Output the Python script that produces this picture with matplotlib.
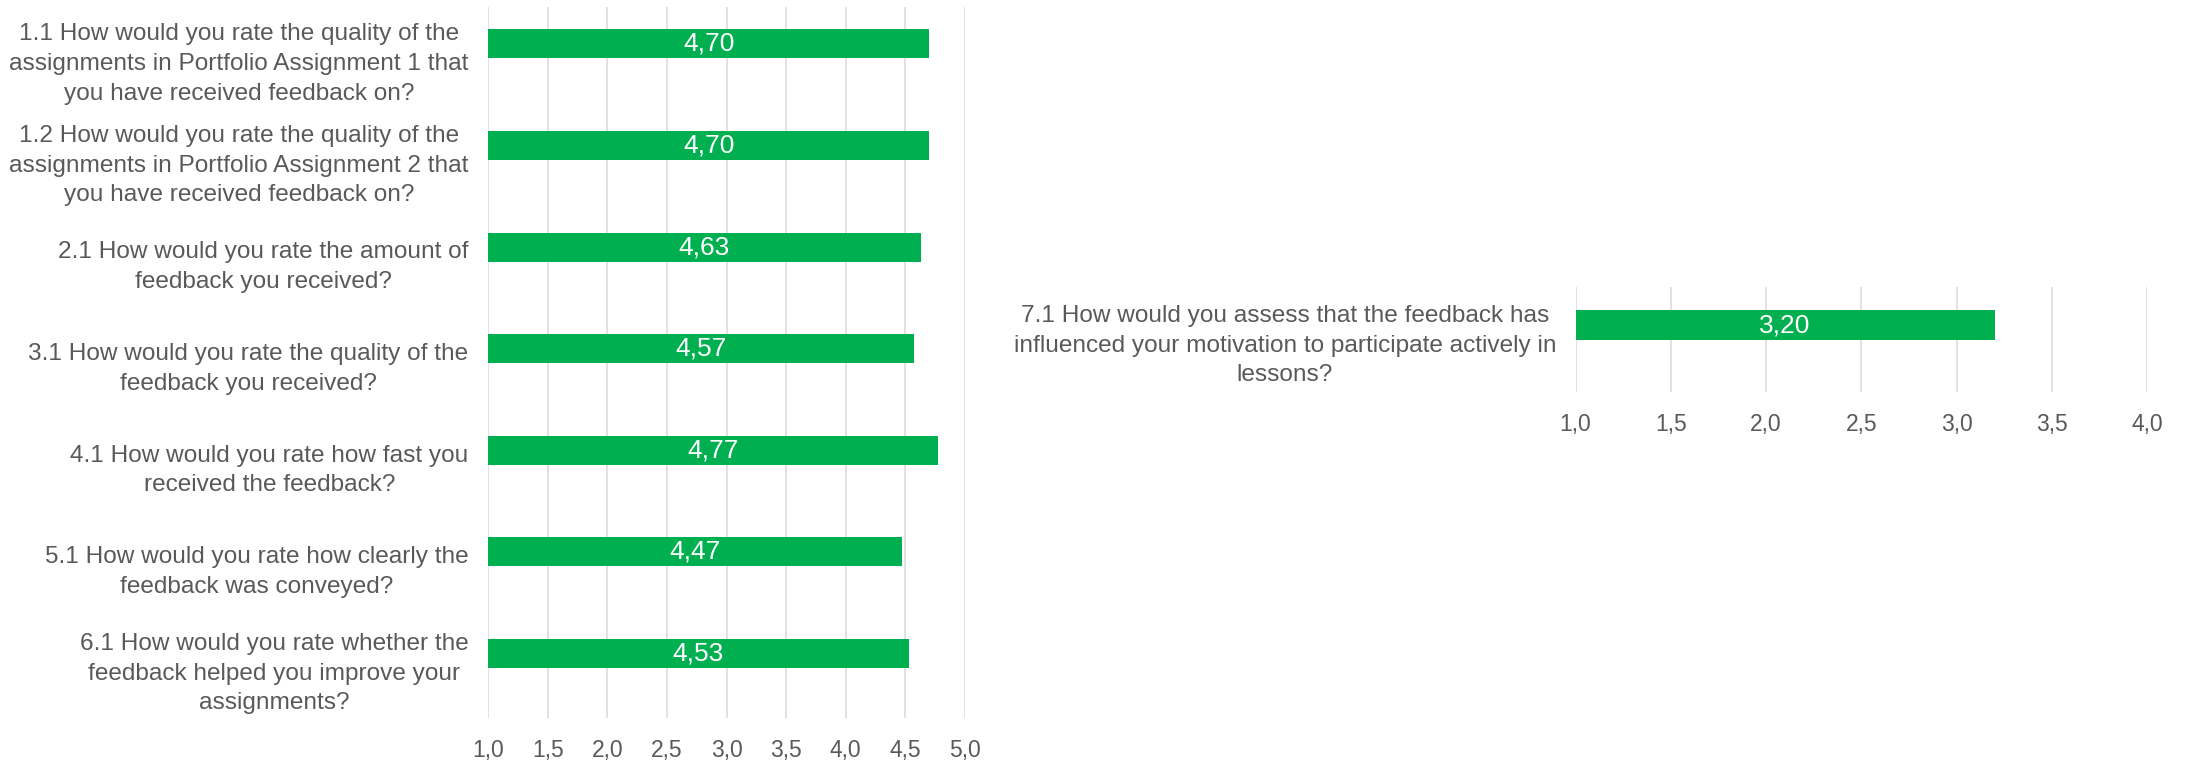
import matplotlib
matplotlib.use("Agg")
import matplotlib.pyplot as plt
import numpy as np

plt.rcParams['font.family'] = ['Liberation Sans', 'DejaVu Sans']

left_labels = [
    "1.1 How would you rate the quality of the\nassignments in Portfolio Assignment 1 that\nyou have received feedback on?",
    "1.2 How would you rate the quality of the\nassignments in Portfolio Assignment 2 that\nyou have received feedback on?",
    "2.1 How would you rate the amount of\nfeedback you received?",
    "3.1 How would you rate the quality of the\nfeedback you received?",
    "4.1 How would you rate how fast you\nreceived the feedback?",
    "5.1 How would you rate how clearly the\nfeedback was conveyed?",
    "6.1 How would you rate whether the\nfeedback helped you improve your\nassignments?",
]
left_values = [4.70, 4.70, 4.63, 4.57, 4.77, 4.47, 4.53]
left_ticks = [1.0, 1.5, 2.0, 2.5, 3.0, 3.5, 4.0, 4.5, 5.0]

right_labels = [
    "7.1 How would you assess that the feedback has\ninfluenced your motivation to participate actively in\nlessons?",
]
right_values = [3.20]
right_ticks = [1.0, 1.5, 2.0, 2.5, 3.0, 3.5, 4.0]

GREEN = "#00b050"
GRID = "#d9d9d9"
TXT = "#595959"
FS_CAT = 17.6
FS_TICK = 16.5
FS_VAL = 19
W, H = 2192, 762

fig = plt.figure(figsize=(W / 100, H / 100), dpi=100)

def panel(rect, labels, values, ticks, xmin, xmax):
    ax = fig.add_axes(rect)
    n = len(labels)
    slots = np.arange(n)
    shift = 0.136
    ax.barh(slots - shift, [v - xmin for v in values], left=xmin, height=0.286,
            color=GREEN, zorder=3)
    for s, v in zip(slots, values):
        ax.text((xmin + v) / 2, s - shift, f"{v:.2f}".replace(".", ","),
                ha="center", va="center", color="white", fontsize=FS_VAL, zorder=4)
    ax.set_ylim(n - 0.5, -0.5)
    ax.set_xlim(xmin, xmax)
    ax.set_yticks(slots)
    ax.set_yticklabels(labels, fontsize=FS_CAT, color=TXT, ha="right",
                       multialignment="center", linespacing=1.45)
    ax.set_xticks(ticks)
    ax.set_xticklabels([f"{t:.1f}".replace(".", ",") for t in ticks],
                       fontsize=FS_TICK, color=TXT)
    ax.tick_params(axis="y", length=0, pad=14)
    ax.tick_params(axis="x", length=0, pad=15)
    for sp in ax.spines.values():
        sp.set_visible(False)
    ax.xaxis.grid(True, color=GRID, linewidth=1.1, zorder=0)
    ax.set_axisbelow(True)
    return ax

panel([488 / W, (H - 718) / H, 477 / W, 711 / H], left_labels, left_values,
      left_ticks, 1.0, 5.0)
panel([1575.5 / W, (H - 392) / H, 571.5 / W, 105 / H], right_labels, right_values,
      right_ticks, 1.0, 4.0)

fig.savefig("out.png", dpi=100, facecolor="white")
